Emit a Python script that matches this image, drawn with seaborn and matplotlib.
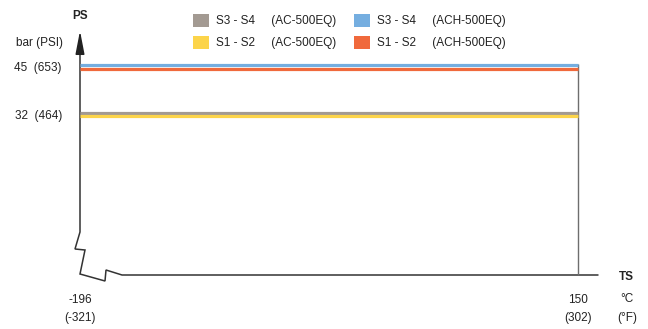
import matplotlib
matplotlib.use("Agg")
import matplotlib.pyplot as plt
import matplotlib.transforms as mtransforms
from matplotlib.patches import Patch
import seaborn as sns
import pandas as pd

# Data: allowable pressure range vs temperature (PS / TS)
series = ["S3 - S4     (AC-500EQ)", "S1 - S2     (AC-500EQ)",
          "S3 - S4     (ACH-500EQ)", "S1 - S2     (ACH-500EQ)"]
pressure_bar = [32, 32, 45, 45]
temp_min_c = -196
temp_max_c = 150
colors = ["#a39a92", "#fcd44a", "#75aee0", "#f0693c"]
# small vertical offsets (pt) so overlapping series stay visible
offsets_pt = [1.3, -1.3, 1.3, -1.3]

ytick_vals = [45, 32]
ytick_labels = ["45  (653)", "32  (464)"]
xtick_vals = [temp_min_c, temp_max_c]
xtick_labels = ["-196\n(-321)", "150\n(302)"]

rows = []
for name, p in zip(series, pressure_bar):
    rows.append({"series": name, "T": temp_min_c, "P": p})
    rows.append({"series": name, "T": temp_max_c, "P": p})
df = pd.DataFrame(rows)

sns.set_theme(style="white")
plt.rcParams["font.family"] = ["Liberation Sans", "DejaVu Sans"]

W, H = 648, 329
fig = plt.figure(figsize=(W / 100, H / 100), dpi=100)

# data axes spans pixel x 80..578, y 28..275
x0, x1, ytop, ybot = 80, 578, 28, 275
ax = fig.add_axes([x0 / W, 1 - ybot / H, (x1 - x0) / W, (ybot - ytop) / H])
px_per_bar = 3.677
p_at_bot = 45 - (ybot - 66.7) / px_per_bar
p_at_top = 45 + (66.7 - ytop) / px_per_bar
ax.set_xlim(temp_min_c, temp_max_c)
ax.set_ylim(p_at_bot, p_at_top)

sns.lineplot(data=df, x="T", y="P", hue="series", hue_order=series,
             palette=colors, linewidth=2.3, legend=False, ax=ax,
             solid_capstyle="butt")
for line, dy in zip(ax.lines, offsets_pt):
    line.set_transform(ax.transData + mtransforms.ScaledTranslation(0, dy / 72, fig.dpi_scale_trans))
    line.set_clip_on(False)

# right boundary at max temperature
ax.vlines(temp_max_c, p_at_bot, max(pressure_bar) + 0.8, color="#6e6e6e", lw=1.0,
          zorder=1, clip_on=False)

for s in ax.spines.values():
    s.set_visible(False)
ax.set_xticks(xtick_vals)
ax.set_xticklabels(xtick_labels, fontsize=8.5, color="#222222", linespacing=1.6)
ax.set_yticks(ytick_vals)
ax.set_yticklabels(ytick_labels, fontsize=8.5, color="#222222")
ax.tick_params(axis="y", length=0, pad=13)
ax.tick_params(axis="x", length=0, pad=14)
ax.set_xlabel("")
ax.set_ylabel("")
ax.grid(False)
ax.patch.set_visible(False)

# overlay in pixel units for the broken axes and labels
deco = fig.add_axes([0, 0, 1, 1], zorder=-1)
deco.set_xlim(0, W)
deco.set_ylim(H, 0)
deco.axis("off")
frame_kw = dict(color="#333333", lw=1.1, solid_joinstyle="miter")
deco.plot([80, 80, 75, 85, 80, 105, 106, 122, 598],
          [45, 232, 249, 250, 274, 281, 270, 275, 275], **frame_kw)
deco.annotate("", xy=(80, 28), xytext=(80, 50),
              arrowprops=dict(arrowstyle="-|>,head_length=1.4,head_width=0.27",
                              color="#222222", lw=1.1, mutation_scale=10))

tkw = dict(fontsize=8.5, color="#222222", va="center")
deco.text(80, 16, "PS", ha="center", fontweight="bold", **tkw)
deco.text(16, 43, "bar (PSI)", ha="left", **tkw)
deco.text(626, 277, "TS", ha="center", fontweight="bold", **tkw)
deco.text(627, 299, "°C", ha="center", **tkw)
deco.text(627, 318, "(°F)", ha="center", **tkw)

handles = [Patch(facecolor=c, edgecolor="none") for c in colors]
fig.legend(handles, series, loc="upper left", bbox_to_anchor=(193 / W, 1 - 14 / H),
           ncol=2, frameon=False, fontsize=8.5, handlelength=1.35, handleheight=1.27,
           handletextpad=0.6, columnspacing=1.5, labelspacing=0.75,
           borderpad=0, borderaxespad=0, labelcolor="#222222")

fig.savefig("out.png", dpi=100)
